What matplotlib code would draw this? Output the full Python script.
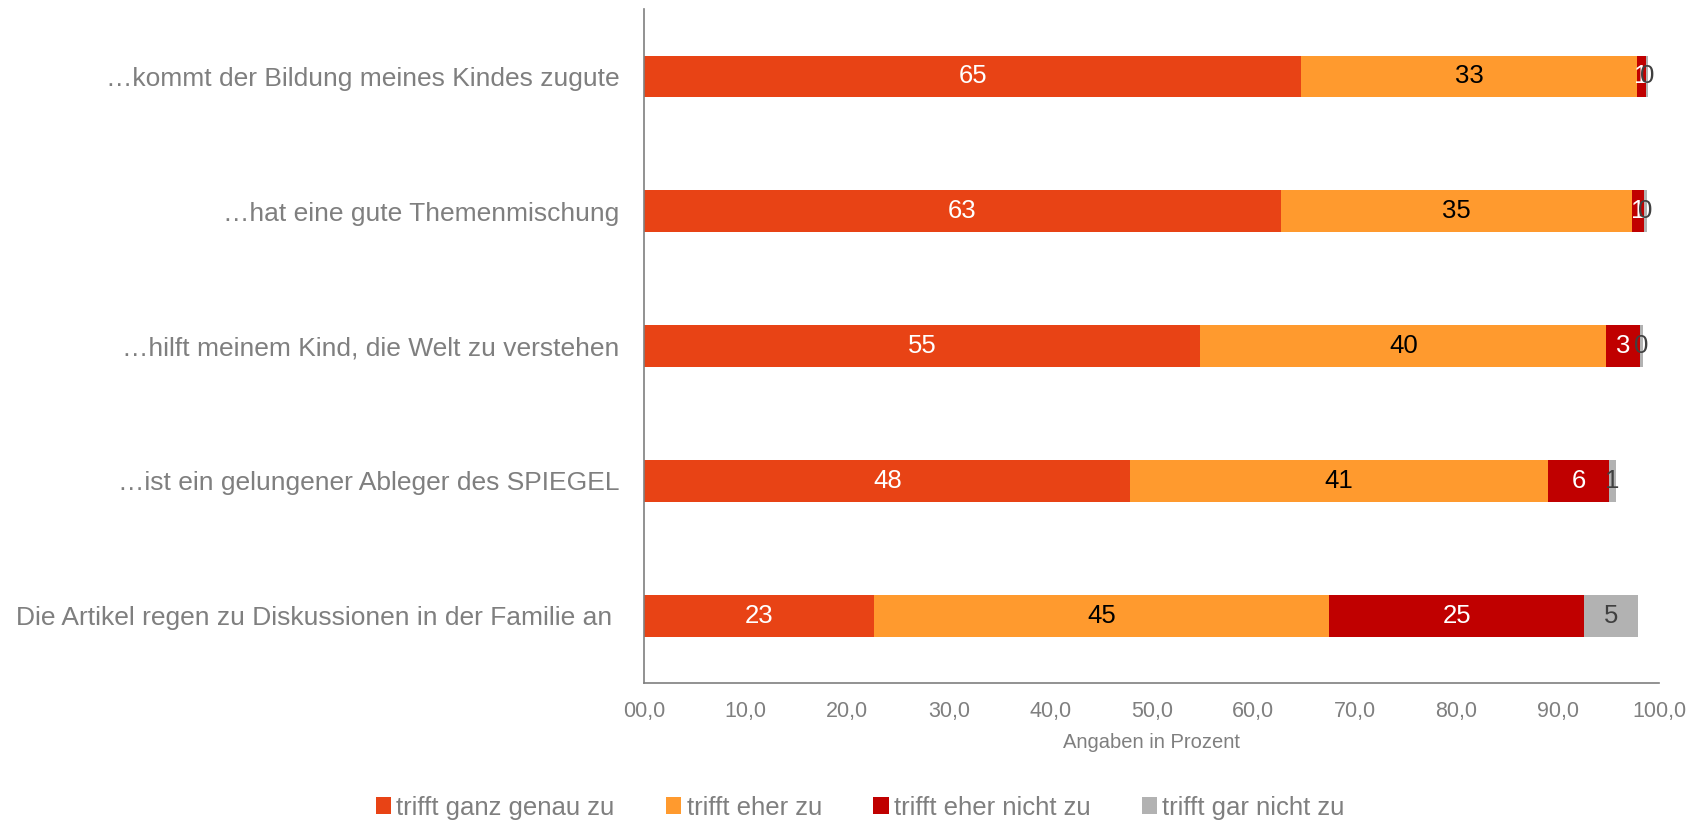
import matplotlib.pyplot as plt
import numpy as np

plt.rcParams['font.family'] = ['Liberation Sans', 'DejaVu Sans']

categories = [
    '…kommt der Bildung meines Kindes zugute',
    '…hat eine gute Themenmischung',
    '…hilft meinem Kind, die Welt zu verstehen',
    '…ist ein gelungener Ableger des SPIEGEL',
    'Die Artikel regen zu Diskussionen in der Familie an ',
]
series_names = ['trifft ganz genau zu', 'trifft eher zu', 'trifft eher nicht zu', 'trifft gar nicht zu']
ganz_genau = [64.7, 62.7, 54.8, 47.9, 22.6]
eher_zu = [33.1, 34.6, 40.0, 41.1, 44.9]
eher_nicht = [0.9, 1.2, 3.3, 6.1, 25.1]
gar_nicht = [0.2, 0.3, 0.3, 0.6, 5.3]
x_ticks = [0, 10, 20, 30, 40, 50, 60, 70, 80, 90, 100]

colors = ['#E84315', '#FF9A2E', '#C00000', '#B2B2B2']
text_colors = ['white', 'black', 'white', '#404040']

fig = plt.figure(figsize=(17, 8.23), dpi=100)
ax = fig.add_axes([0.379, 0.170, 0.597, 0.819])

y = np.arange(len(categories))
left = np.zeros(len(categories))
for vals, name, col, tcol in zip([ganz_genau, eher_zu, eher_nicht, gar_nicht], series_names, colors, text_colors):
    vals = np.array(vals)
    ax.barh(y, vals, left=left, height=0.31, color=col, label=name)
    for yi, l, v in zip(y, left, vals):
        ax.text(l + v / 2, yi, f'{round(v):d}', ha='center', va='center',
                fontsize=18.5, color=tcol)
    left += vals

ax.set_ylim(len(categories) - 0.5, -0.5)
ax.set_xlim(0, 100)
ax.set_yticks(y)
ax.set_yticklabels(categories, fontsize=19, color='#7F7F7F')
ax.set_xticks(x_ticks)
ax.set_xticklabels([f'{v:04.1f}'.replace('.', ',') for v in x_ticks], fontsize=15.5, color='#7F7F7F')
ax.tick_params(length=0, axis='y', pad=18)
ax.tick_params(length=0, axis='x', pad=13)
ax.set_xlabel('Angaben in Prozent', fontsize=14.5, color='#7F7F7F', labelpad=8)

for s in ['top', 'right']:
    ax.spines[s].set_visible(False)
for s in ['left', 'bottom']:
    ax.spines[s].set_color('#7F7F7F')
    ax.spines[s].set_linewidth(1.2)

leg = fig.legend(loc='lower center', bbox_to_anchor=(0.506, -0.024), ncol=4, frameon=False,
                 fontsize=18.5, handlelength=0.6, handleheight=0.6, handletextpad=0.2,
                 columnspacing=2.0)
for t in leg.get_texts():
    t.set_color('#7F7F7F')

fig.savefig('out.png', dpi=100)
